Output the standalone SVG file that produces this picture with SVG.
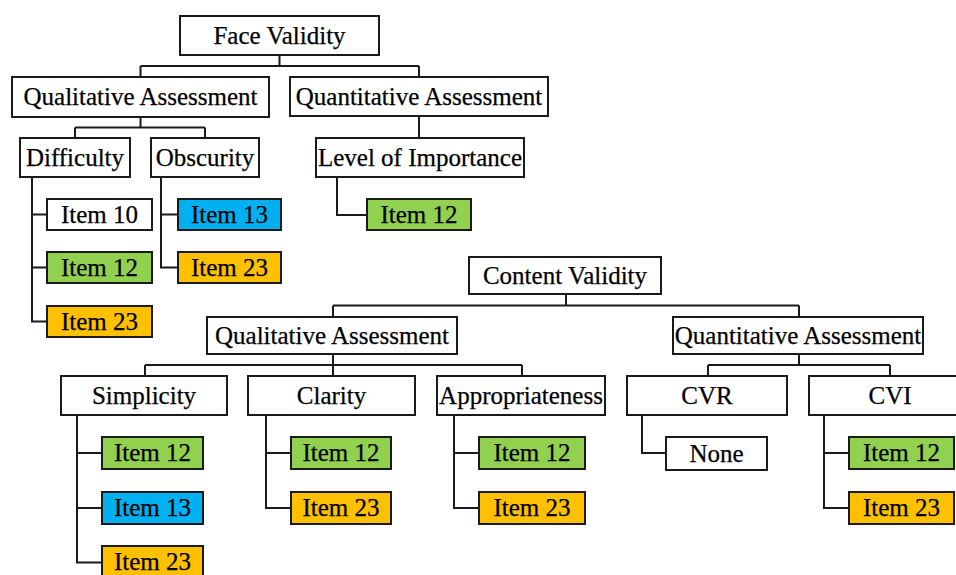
<svg xmlns="http://www.w3.org/2000/svg" width="956" height="575" viewBox="0 0 956 575">
<style>
  .box{fill:#ffffff;stroke:#1a1a1a;stroke-width:2}
  .g{fill:#92D050;stroke:#1a1a1a;stroke-width:2}
  .b{fill:#00B0F0;stroke:#1a1a1a;stroke-width:2}
  .y{fill:#FFC000;stroke:#1a1a1a;stroke-width:2}
  .t{font-family:"Liberation Serif","Times New Roman",serif;font-size:25px;fill:#000;stroke:#000;stroke-width:0.25;text-anchor:middle}
  .c{fill:none;stroke:#1a1a1a;stroke-width:2}
</style>
<rect width="956" height="575" fill="#ffffff"/>
<g id="connectors" class="c">
  <path d="M279.5,55 V66 M140.5,66 H419 M140.5,66 V77 M419,66 V77"/>
  <path d="M140.5,117 V127.5 M75,127.5 H205 M75,127.5 V138 M205,127.5 V138"/>
  <path d="M419,116 V138"/>
  <path d="M32,177 V321.5 H47 M32,214.5 H47 M32,267.5 H47"/>
  <path d="M161,177 V267.5 H178 M161,214.5 H178"/>
  <path d="M337,177 V215 H367"/>
  <path d="M566,294 V305.5 M333,305.5 H799 M333,305.5 V317 M799,305.5 V317"/>
  <path d="M333,354 V365 M145,365 H522 M145,365 V376 M333,365 V376 M522,365 V376"/>
  <path d="M799,354 V365 M708,365 H890 M708,365 V376 M890,365 V376"/>
  <path d="M77,415 V562.5 H102 M77,453 H102 M77,508 H102"/>
  <path d="M266,415 V508 H291 M266,453 H291"/>
  <path d="M454,415 V508 H479 M454,453 H479"/>
  <path d="M642,415 V453 H666"/>
  <path d="M824,415 V508 H849 M824,453 H849"/>
</g>
<g id="face-validity"><rect class="box" x="180" y="16" width="199" height="39"/><text class="t" x="279.5" y="43.5">Face Validity</text></g>
<g id="fv-qualitative"><rect class="box" x="12" y="77" width="257" height="40"/><text class="t" x="140.5" y="105">Qualitative Assessment</text></g>
<g id="fv-quantitative"><rect class="box" x="290" y="77" width="258" height="39"/><text class="t" x="419" y="104.5">Quantitative Assessment</text></g>
<g id="difficulty"><rect class="box" x="20" y="138" width="110" height="39"/><text class="t" x="75" y="165.5">Difficulty</text></g>
<g id="obscurity"><rect class="box" x="151" y="138" width="108" height="39"/><text class="t" x="205" y="165.5">Obscurity</text></g>
<g id="level-of-importance"><rect class="box" x="316" y="138" width="208" height="39"/><text class="t" x="420" y="165.5">Level of Importance</text></g>
<g id="diff-item10"><rect class="box" x="47" y="199" width="105" height="31"/><text class="t" x="99.5" y="222.5">Item 10</text></g>
<g id="diff-item12"><rect class="g" x="47" y="252" width="105" height="31"/><text class="t" x="99.5" y="275.5">Item 12</text></g>
<g id="diff-item23"><rect class="y" x="47" y="306" width="105" height="31"/><text class="t" x="99.5" y="329.5">Item 23</text></g>
<g id="obsc-item13"><rect class="b" x="178" y="199" width="103" height="31"/><text class="t" x="229.5" y="222.5">Item 13</text></g>
<g id="obsc-item23"><rect class="y" x="178" y="252" width="103" height="31"/><text class="t" x="229.5" y="275.5">Item 23</text></g>
<g id="loi-item12"><rect class="g" x="367" y="199" width="104" height="31"/><text class="t" x="419" y="222.5">Item 12</text></g>
<g id="content-validity"><rect class="box" x="469" y="257" width="192" height="37"/><text class="t" x="565" y="283.5">Content Validity</text></g>
<g id="cv-qualitative"><rect class="box" x="207" y="317" width="250" height="37"/><text class="t" x="332" y="343.5">Qualitative Assessment</text></g>
<g id="cv-quantitative"><rect class="box" x="673" y="317" width="250" height="37"/><text class="t" x="798" y="343.5">Quantitative Assessment</text></g>
<g id="simplicity"><rect class="box" x="61" y="376" width="166" height="39"/><text class="t" x="144" y="403.5">Simplicity</text></g>
<g id="clarity"><rect class="box" x="248" y="376" width="167" height="39"/><text class="t" x="331.5" y="403.5">Clarity</text></g>
<g id="appropriateness"><rect class="box" x="437" y="376" width="168" height="39"/><text class="t" x="521" y="403.5">Appropriateness</text></g>
<g id="cvr"><rect class="box" x="627" y="376" width="160" height="39"/><text class="t" x="707" y="403.5">CVR</text></g>
<g id="cvi"><rect class="box" x="809" y="376" width="165" height="39"/><text class="t" x="890" y="403.5">CVI</text></g>
<g id="simp-item12"><rect class="g" x="102" y="437" width="101" height="32"/><text class="t" x="152.5" y="461">Item 12</text></g>
<g id="simp-item13"><rect class="b" x="102" y="492" width="101" height="32"/><text class="t" x="152.5" y="516">Item 13</text></g>
<g id="simp-item23"><rect class="y" x="102" y="546" width="101" height="32"/><text class="t" x="152.5" y="570">Item 23</text></g>
<g id="clar-item12"><rect class="g" x="291" y="437" width="100" height="32"/><text class="t" x="341" y="461">Item 12</text></g>
<g id="clar-item23"><rect class="y" x="291" y="492" width="100" height="32"/><text class="t" x="341" y="516">Item 23</text></g>
<g id="appr-item12"><rect class="g" x="479" y="437" width="106" height="32"/><text class="t" x="532" y="461">Item 12</text></g>
<g id="appr-item23"><rect class="y" x="479" y="492" width="106" height="32"/><text class="t" x="532" y="516">Item 23</text></g>
<g id="cvr-none"><rect class="box" x="666" y="437" width="101" height="33"/><text class="t" x="716.5" y="461.5">None</text></g>
<g id="cvi-item12"><rect class="g" x="849" y="437" width="105" height="32"/><text class="t" x="901.5" y="461">Item 12</text></g>
<g id="cvi-item23"><rect class="y" x="849" y="492" width="105" height="32"/><text class="t" x="901.5" y="516">Item 23</text></g>
</svg>
